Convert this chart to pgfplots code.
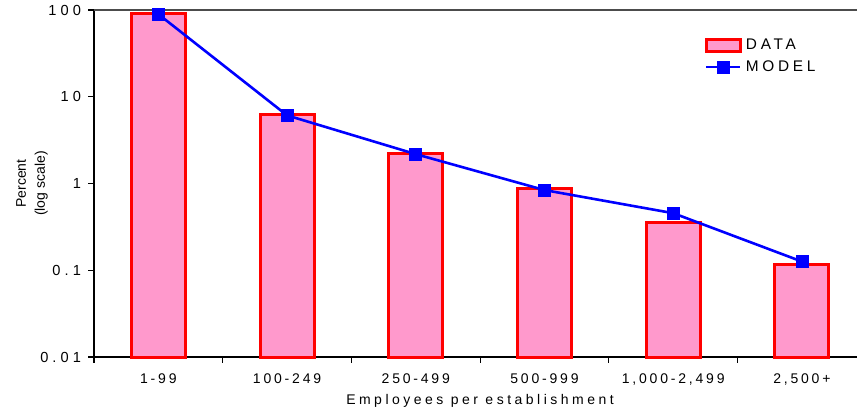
\documentclass[border=0pt]{standalone}
\usepackage{pgfplots}
\pgfplotsset{compat=1.18}
\usepackage{fontspec}
\setmainfont{Liberation Sans}
\newfontfamily\ytfont{Liberation Sans}[LetterSpace=28]
\newfontfamily\xtfont{Liberation Sans}[LetterSpace=20]
\newfontfamily\xlfont{Liberation Sans}[LetterSpace=25]
\newfontfamily\lgfont{Liberation Sans}[LetterSpace=24]
\definecolor{barpink}{RGB}{255,153,204}
\begin{document}
\begin{tikzpicture}
\useasboundingbox (0,0) rectangle (428.5pt,208.5pt);
\begin{axis}[
  at={(47pt,30pt)}, anchor=south west,
  width=381.5pt, height=173.5pt, scale only axis,
  ymode=log, log origin=infty,
  ymin=0.01, ymax=100,
  xmin=-0.5, xmax=5.428,
  axis x line*=bottom, axis y line*=left,
  axis line style={-, black, line width=0.6pt},
  tick align=outside,
  xtick={0,1,2,3,4,5},
  xticklabels={1-99,100-249,250-499,500-999,{1,000-2,499},{2,500+}},
  major x tick style={draw=none},
  minor xtick={-0.5,0.5,1.5,2.5,3.5,4.5},
  minor x tick style={black, line width=0.6pt},
  minor tick length=3pt,
  major tick length=3pt,
  ytick={0.01,0.1,1,10,100},
  yticklabels={0.01,0.1,1,10,100},
  yminorticks=false,
  y tick style={black, line width=0.6pt},
  xticklabel style={font=\xtfont\fontsize{7}{8}\selectfont, yshift=-2pt},
  yticklabel style={font=\ytfont\fontsize{7.3}{8}\selectfont},
  xlabel={Employees per establishment},
  xlabel style={at={(axis description cs:0.506,0)}, anchor=center, yshift=-22pt, font=\xlfont\fontsize{7}{8}\selectfont},
  ylabel={Percent\\(log scale)},
  every axis y label/.style={at={([xshift=-31pt]axis description cs:0,0.5)}, rotate=90, anchor=center, align=center, font=\fontsize{7}{9.5}\selectfont},
  legend style={at={(axis description cs:0.80,0.93)}, anchor=north west, draw=none, fill=none, font=\lgfont\fontsize{7.7}{9}\selectfont, row sep=0pt, inner sep=0pt},
  legend cell align=left,
  clip=false,
]
\addplot[ybar, bar width=27pt, bar shift=0pt, fill=barpink, draw=red, line width=1.5pt, area legend] coordinates {
(0,90) (1,6.2) (2,2.19) (3,0.88) (4,0.358) (5,0.116)};
\addlegendentry{DATA}
\addplot[blue, line width=1.3pt, mark=square*, mark size=3pt, mark options={solid, fill=blue, line width=0.3pt}] coordinates {
(0,89.5) (1,6.1) (2,2.18) (3,0.84) (4,0.455) (5,0.126)};
\addlegendentry{MODEL}
\draw[black!70, line width=0.6pt] (rel axis cs:0,1) -- (rel axis cs:1,1);
\end{axis}
\end{tikzpicture}
\end{document}
